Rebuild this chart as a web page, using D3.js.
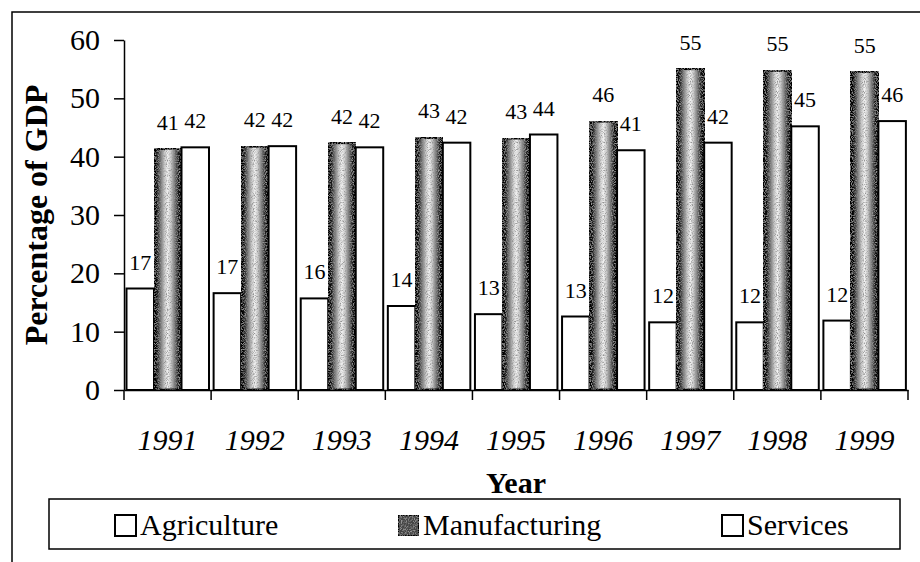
<!DOCTYPE html>
<html>
<head>
<meta charset="utf-8">
<script src="https://cdn.jsdelivr.net/npm/d3@7"></script>
<style>
  body { margin: 0; background: #fff; }
  text { font-family: "Liberation Serif", "Times New Roman", serif; fill: #000; }
</style>
</head>
<body>
<div id="chart"></div>
<script>
var svgWidth = 920;
var svgHeight = 562;

// data
var years = ["1991", "1992", "1993", "1994", "1995", "1996", "1997", "1998", "1999"];
var sectors = ["Agriculture", "Manufacturing", "Services"];
var agriculture = [17.4, 16.6, 15.7, 14.4, 13.0, 12.6, 11.6, 11.6, 11.9];
var manufacturing = [41.4, 41.8, 42.4, 43.3, 43.2, 46.1, 55.1, 54.8, 54.6];
var services = [41.6, 41.8, 41.6, 42.4, 43.8, 41.1, 42.4, 45.2, 46.1];
var yTicks = [0, 10, 20, 30, 40, 50, 60];

var plot = { left: 124, right: 908, top: 40, bottom: 390 };

var svg = d3.select("#chart")
  .append("svg")
  .attr("width", svgWidth)
  .attr("height", svgHeight);

// gradient + speckle for the manufacturing bars (scanned halftone look)
var defs = svg.append("defs");
var grad = defs.append("linearGradient")
  .attr("id", "manuGrad")
  .attr("x1", "0%").attr("x2", "100%").attr("y1", "0%").attr("y2", "0%");
[[0, "#000"], [0.1, "#111"], [0.22, "#666"], [0.38, "#c8c8c8"], [0.5, "#f2f2f2"],
 [0.62, "#c8c8c8"], [0.78, "#666"], [0.9, "#111"], [1, "#000"]]
  .forEach(function(s) {
    grad.append("stop").attr("offset", s[0]).attr("stop-color", s[1]);
  });

var speckle = defs.append("filter").attr("id", "speckle")
  .attr("x", 0).attr("y", 0).attr("width", 1).attr("height", 1);
speckle.append("feTurbulence")
  .attr("type", "fractalNoise")
  .attr("baseFrequency", 0.85)
  .attr("numOctaves", 2)
  .attr("seed", 3)
  .attr("result", "noise");
speckle.append("feColorMatrix")
  .attr("in", "noise")
  .attr("type", "matrix")
  .attr("values", "0 0 0 0 0.3  0 0 0 0 0.3  0 0 0 0 0.3  0 0 0 -3.2 1.75")
  .attr("result", "dots");
speckle.append("feComposite")
  .attr("in", "dots").attr("in2", "SourceGraphic").attr("operator", "in")
  .attr("result", "dotsIn");
speckle.append("feMerge").selectAll("feMergeNode")
  .data(["SourceGraphic", "dotsIn"])
  .enter().append("feMergeNode").attr("in", d => d);

// outer chart border (cropped on right / bottom)
svg.append("rect")
  .attr("x", 12).attr("y", 12)
  .attr("width", 940).attr("height", 600)
  .attr("fill", "none")
  .attr("stroke", "#000")
  .attr("stroke-width", 1.5);

// scales
var xScale = d3.scaleBand()
  .domain(years)
  .range([plot.left, plot.right])
  .padding(0);

var xInner = d3.scaleBand()
  .domain(sectors)
  .range([2.5, 85])
  .padding(0);

var yScale = d3.scaleLinear()
  .domain([0, 60])
  .range([plot.bottom, plot.top]);

var table = years.map(function(y, i) {
  return { year: y, values: [
    { key: "Agriculture", value: agriculture[i] },
    { key: "Manufacturing", value: manufacturing[i] },
    { key: "Services", value: services[i] }
  ]};
});

// bars
var groups = svg.append("g").selectAll("g")
  .data(table)
  .enter()
  .append("g")
  .attr("transform", d => `translate(${xScale(d.year)}, 0)`);

groups.selectAll("rect")
  .data(d => d.values)
  .enter()
  .append("rect")
  .attr("x", d => xInner(d.key))
  .attr("y", d => yScale(d.value))
  .attr("width", xInner.bandwidth())
  .attr("height", d => yScale(0) - yScale(d.value))
  .attr("fill", d => d.key === "Manufacturing" ? "url(#manuGrad)" : "#fff")
  .attr("filter", d => d.key === "Manufacturing" ? "url(#speckle)" : null)
  .attr("stroke", "#000")
  .attr("stroke-width", d => d.key === "Manufacturing" ? 3 : 2);

// value labels
groups.selectAll("text")
  .data(d => d.values)
  .enter()
  .append("text")
  .attr("x", d => xInner(d.key) + xInner.bandwidth() / 2)
  .attr("y", d => yScale(d.value) - 19)
  .attr("text-anchor", "middle")
  .attr("font-size", "22px")
  .text(d => Math.round(d.value));

// y axis
var leftAxis = d3.axisLeft(yScale)
  .tickValues(yTicks)
  .tickSize(10)
  .tickPadding(14)
  .tickSizeOuter(0);

var yAxis = svg.append("g")
  .attr("transform", `translate(${plot.left}, 0)`)
  .call(leftAxis);
yAxis.select(".domain").attr("stroke", "#000").attr("stroke-width", 1.5);
yAxis.selectAll(".tick line").attr("stroke", "#000").attr("stroke-width", 1.5);
yAxis.selectAll(".tick text")
  .attr("font-size", "30px")
  .attr("fill", "#000");

// x axis: ticks on category boundaries
var bottomAxis = d3.axisBottom(xScale).tickSize(0).tickSizeOuter(0).tickPadding(0);
var xAxis = svg.append("g")
  .attr("transform", `translate(0, ${plot.bottom})`)
  .call(bottomAxis);
xAxis.select(".domain").attr("stroke", "#000").attr("stroke-width", 1.5);
xAxis.selectAll(".tick text")
  .attr("y", 60)
  .attr("dy", 0)
  .attr("font-style", "italic")
  .attr("font-size", "30px")
  .attr("fill", "#000");

xAxis.selectAll(".boundary")
  .data(years.concat(["end"]))
  .enter()
  .append("line")
  .attr("class", "boundary")
  .attr("x1", (d, i) => plot.left + i * xScale.step())
  .attr("x2", (d, i) => plot.left + i * xScale.step())
  .attr("y1", 0)
  .attr("y2", 10)
  .attr("stroke", "#000")
  .attr("stroke-width", 1.5);

// axis titles
svg.append("text")
  .attr("transform", `translate(47, ${(plot.top + plot.bottom) / 2}) rotate(-90)`)
  .attr("text-anchor", "middle")
  .attr("font-size", "32px")
  .attr("font-weight", "bold")
  .text("Percentage of GDP");

svg.append("text")
  .attr("x", (plot.left + plot.right) / 2)
  .attr("y", 493)
  .attr("text-anchor", "middle")
  .attr("font-size", "30px")
  .attr("font-weight", "bold")
  .text("Year");

// legend
var legend = svg.append("g");
legend.append("rect")
  .attr("x", 49).attr("y", 499)
  .attr("width", 851).attr("height", 50)
  .attr("fill", "#fff")
  .attr("stroke", "#000")
  .attr("stroke-width", 1.5);

var legendX = [115, 398, 722];
var items = legend.selectAll(".item")
  .data(sectors)
  .enter()
  .append("g")
  .attr("class", "item")
  .attr("transform", (d, i) => `translate(${legendX[i]}, 515)`);

items.append("rect")
  .attr("width", 21).attr("height", 21)
  .attr("fill", d => d === "Manufacturing" ? "#444" : "#fff")
  .attr("filter", d => d === "Manufacturing" ? "url(#speckle)" : null)
  .attr("stroke", "#000")
  .attr("stroke-width", 2);

items.append("text")
  .attr("x", 25)
  .attr("y", 20)
  .attr("font-size", "30px")
  .text(d => d);
</script>
</body>
</html>
